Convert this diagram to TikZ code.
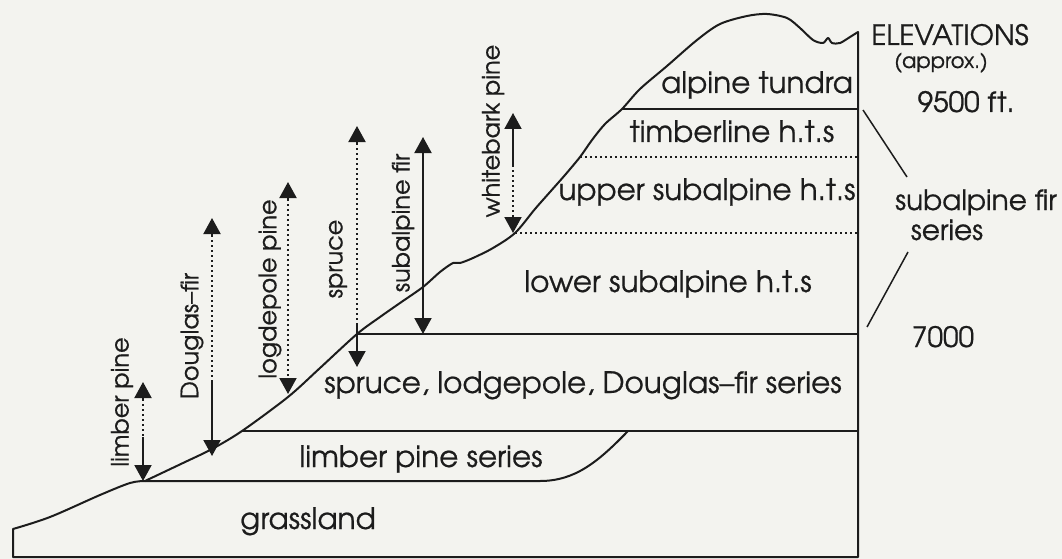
\documentclass[tikz,border=0pt]{standalone}
\usepackage{fontspec}
\setmainfont{texgyreadventor-regular.otf}[BoldFont=texgyreadventor-regular.otf, BoldFeatures={FakeBold=0.6}]
\usetikzlibrary{arrows.meta}
\definecolor{paper}{RGB}{243,243,239}
\definecolor{ink}{RGB}{28,28,28}
\tikzset{
  ink line/.style={draw=ink, line width=2pt, line join=round},
  dotline/.style={draw=ink, line width=2pt, dash pattern=on 1.6pt off 3.4pt},
  tip/.style={-{Triangle[width=17pt,length=16pt]}},
  zone/.style={font=\fontsize{29.5}{30}\selectfont\bfseries, text=ink, inner sep=0pt, anchor=base},
  species/.style={font=\fontsize{24}{24}\selectfont\bfseries, text=ink, inner sep=0pt, rotate=90},
  side/.style={font=\fontsize{28}{28}\selectfont\bfseries, text=ink, inner sep=0pt, anchor=base},
}
\begin{document}
\begin{tikzpicture}[x=1pt, y=-1pt]
\fill[paper] (0,0) rectangle (1062,559);
\useasboundingbox (0,0) rectangle (1062,559);

% points on the slope where the zone boundaries start
\coordinate (sLimber) at (145,481);
\coordinate (sSpruce) at (242,431);
\coordinate (sSubalp) at (357,334);
\coordinate (sUpper) at (515,233);
\coordinate (sTimber) at (580,157);
\coordinate (sAlpine) at (622,109);
\coordinate (rimTop) at (858,32);
\coordinate (baseR) at (858,557);
\coordinate (baseL) at (13,557);

% mountain profile
\draw[ink line] (baseL) -- (13,529)
  -- plot[smooth, tension=0.55] coordinates {(13,529) (50,517) (100,495) (130,483) (145,481)}
  -- plot[smooth, tension=0.5] coordinates {(145,481) (183,463) (212,449) (242,431) (288,397) (320,368) (357,334) (380,317) (400,303) (423,287) (440,272) (453,263) (460,263) (473,258) (493,248) (515,233) (535,209) (550,192) (565,175) (580,157) (592,140) (605,124) (622,109) (640,89) (667,66) (697,40) (720,24) (747,16) (767,14) (787,18) (800,28) (813,40) (823,43) (828,38) (832,43) (840,43) (850,37) (858,32)}
  -- (baseR) -- cycle;

% zone boundaries
\coordinate (lpEnd) at (628,431);
\draw[ink line] (sLimber) -- (540,481) .. controls (575,481) and (598,462) .. (lpEnd);
\draw[ink line] (sSpruce) -- (858,431);
\draw[ink line] (sSubalp) -- (858,334);
\draw[dotline] (sUpper) -- (858,233);
\draw[dotline] (sTimber) -- (858,157);
\draw[ink line] (sAlpine) -- (858,109);

% zone names
\node[zone] (grass) at (308,529) {grassland};
\node[zone] (limberS) at (421,467) {limber pine series};
\node[zone] (spruceS) at (583,393) {spruce, lodgepole, Douglas--fir series};
\node[zone] (lowerS) at (668,292) {lower subalpine h.t.s};
\node[zone] (upperS) at (707,200) {upper subalpine h.t.s};
\node[zone] (timberS) at (732,142) {timberline h.t.s};
\node[zone] (alpineS) at (757,93) {alpine tundra};

% elevation scale
\node[side] (elev) at (950,45) {ELEVATIONS};
\node[side, font=\fontsize{21}{21}\selectfont\bfseries] (approx) at (941,68) {(approx.)};
\node[side] (e9500) at (966,112) {9500 ft.};
\node[side] (sfir) at (976,210) {subalpine fir};
\node[side] (sser) at (947,240) {series};
\node[side] (e7000) at (943,347) {7000};
\coordinate (b1a) at (863,110);
\coordinate (b1b) at (907,177);
\coordinate (b2a) at (908,252);
\coordinate (b2b) at (867,327);
\draw[ink line, line width=1.5pt] (b1a) -- (b1b);
\draw[ink line, line width=1.5pt] (b2a) -- (b2b);

% species ranges
% limber pine
\coordinate (lpTop) at (143,382); \coordinate (lpA) at (143,399);
\coordinate (lpB) at (143,437); \coordinate (lpBot) at (143,481);
\draw[ink line, tip] (lpA) -- (lpTop);
\draw[dotline] (lpA) -- (lpB);
\draw[ink line, tip] (lpB) -- (lpBot);
\node[species] (lpLab) at (122,402) {limber pine};
% Douglas-fir
\coordinate (dfTop) at (212,218); \coordinate (dfA) at (212,235);
\coordinate (dfB) at (212,380); \coordinate (dfBot) at (212,456);
\draw[ink line, tip] (dfA) -- (dfTop);
\draw[dotline] (dfA) -- (dfB);
\draw[ink line, tip] (dfB) -- (dfBot);
\node[species] (dfLab) at (192,336) {Douglas--fir};
% lodgepole pine
\coordinate (lgTop) at (288,182); \coordinate (lgA) at (288,199);
\coordinate (lgBot) at (288,394);
\draw[ink line, tip] (lgA) -- (lgTop);
\draw[dotline, tip] (lgA) -- (lgBot);
\node[species] (lgLab) at (270,289) {logdepole pine};
% spruce
\coordinate (spTop) at (357,126); \coordinate (spA) at (357,143);
\coordinate (spB) at (357,323); \coordinate (spBot) at (357,367);
\draw[ink line, tip] (spA) -- (spTop);
\draw[dotline] (spA) -- (spB);
\draw[ink line, tip] (spB) -- (spBot);
\node[species] (spLab) at (338,259) {spruce};
% subalpine fir
\coordinate (sfTop) at (423,137); \coordinate (sfBot) at (423,334);
\draw[ink line, {Triangle[width=17pt,length=16pt]}-{Triangle[width=17pt,length=16pt]}] (sfTop) -- (sfBot);
\node[species] (sfLab) at (403,223) {subalpine fir};
% whitebark pine
\coordinate (wbTop) at (513,113); \coordinate (wbB) at (513,165);
\coordinate (wbBot) at (513,233);
\draw[ink line, tip] (wbB) -- (wbTop);
\draw[dotline, tip] (wbB) -- (wbBot);
\node[species] (wbLab) at (493,131) {whitebark pine};
\end{tikzpicture}
\end{document}
